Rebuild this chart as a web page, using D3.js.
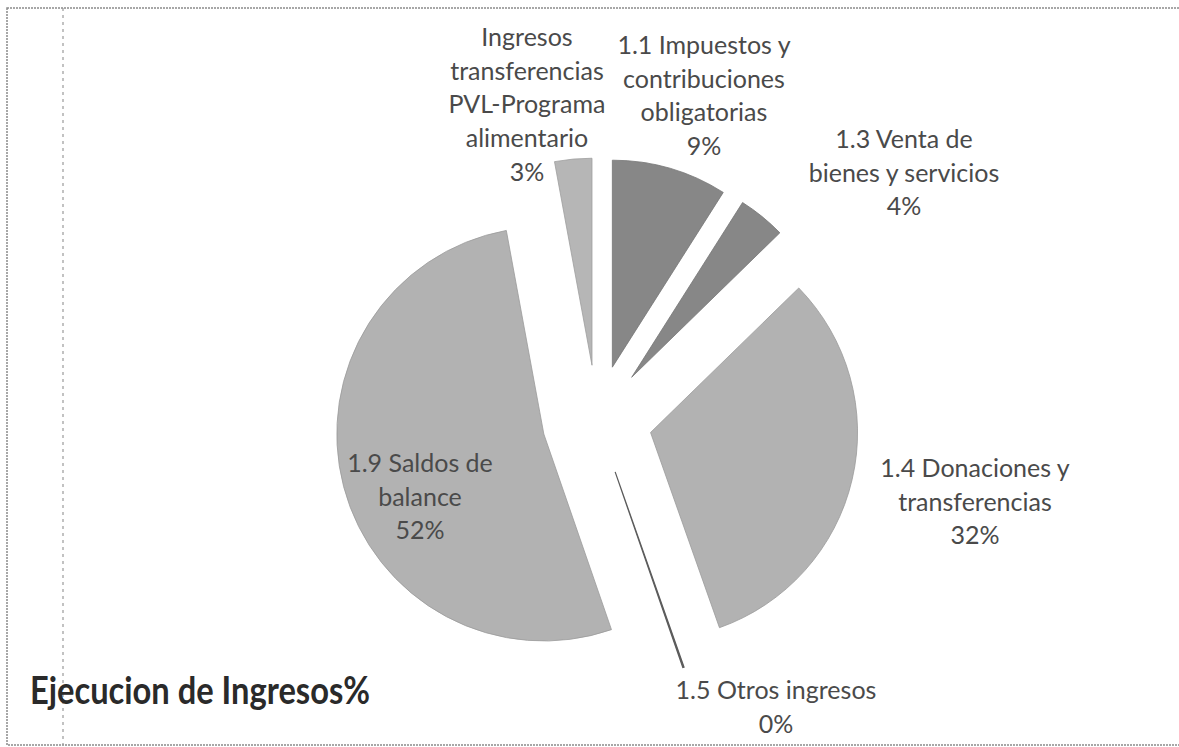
<!DOCTYPE html>
<html>

<head>
    <meta charset="UTF-8">
    <title>Ejecucion de Ingresos%</title>
    <script src="https://d3js.org/d3.v7.min.js"></script>
    <style>
        body { margin: 0; background: white; }
        .label { font-family: Lato, "Open Sans", sans-serif; font-size: 25px; fill: #4a4a4a; }
        .title { font-family: Lato, "Open Sans", sans-serif; font-size: 38px; font-weight: bold; fill: #2a2a2a; }
    </style>
</head>

<body>
    <script>
        // data, clockwise from 12 o'clock
        var categories = [
            "1.1 Impuestos y contribuciones obligatorias",
            "1.3 Venta de bienes y servicios",
            "1.4 Donaciones y transferencias",
            "1.5 Otros ingresos",
            "1.9 Saldos de balance",
            "Ingresos transferencias PVL-Programa alimentario"
        ];
        var shares = [9.0, 3.7, 31.9, 0.1, 52.4, 2.9];
        var labelLines = [
            ["1.1 Impuestos y", "contribuciones", "obligatorias"],
            ["1.3 Venta de", "bienes y servicios"],
            ["1.4 Donaciones y", "transferencias"],
            ["1.5 Otros ingresos"],
            ["1.9 Saldos de", "balance"],
            ["Ingresos", "transferencias", "PVL-Programa", "alimentario"]
        ];
        var sliceColors = ["#878787", "#878787", "#b2b2b2", "#6a6a6a", "#b2b2b2", "#b6b6b6"];

        // layout
        var width = 1179, height = 747;
        var cx = 597, cy = 420, radius = 207, explode = 55;
        var lineGap = 33.7;
        // label block: center x, first baseline
        var labelAnchor = [[704, 54], [904, 148], [975, 477], [776, 699], [420, 472], [527, 46]];

        var svg = d3.select("body").append("svg")
            .attr("width", width).attr("height", height);

        // scanned page frame
        svg.append("rect")
            .attr("x", 7).attr("y", 8).attr("width", width + 20).attr("height", 737)
            .attr("fill", "none").attr("stroke", "#8a8a8a").attr("stroke-width", 1.5)
            .attr("stroke-dasharray", "2,1");
        svg.append("line")
            .attr("x1", 63).attr("x2", 63).attr("y1", 8).attr("y2", 745)
            .attr("stroke", "#9a9a9a").attr("stroke-width", 1.2)
            .attr("stroke-dasharray", "3,4");

        var rows = categories.map(function (c, i) {
            return { name: c, value: shares[i], lines: labelLines[i], color: sliceColors[i], anchor: labelAnchor[i] };
        });

        var pie = d3.pie().sort(null).value(function (d) { return d.value; });
        var arcs = pie(rows);

        var arc = d3.arc().innerRadius(0).outerRadius(radius);

        var g = svg.append("g").attr("transform", "translate(" + cx + "," + cy + ")");

        g.selectAll("path").data(arcs).enter()
            .append("path")
            .attr("d", arc)
            .attr("transform", function (d) {
                var a = (d.startAngle + d.endAngle) / 2;
                return "translate(" + (explode * Math.sin(a)) + "," + (-explode * Math.cos(a)) + ")";
            })
            .attr("fill", function (d) { return d.data.color; })
            .attr("stroke", function (d) { return d3.color(d.data.color).darker(0.4); })
            .attr("stroke-width", function (d) { return d.data.value < 1 ? 1.2 : 0.8; });

        // data labels
        var labels = svg.append("g").selectAll("text").data(arcs).enter()
            .append("text").classed("label", true)
            .attr("text-anchor", "middle")
            .attr("x", function (d) { return d.data.anchor[0]; })
            .attr("y", function (d) { return d.data.anchor[1]; });

        labels.each(function (d) {
            var t = d3.select(this);
            var lines = d.data.lines.concat([Math.round(d.data.value) + "%"]);
            lines.forEach(function (s, i) {
                t.append("tspan")
                    .attr("x", d.data.anchor[0])
                    .attr("dy", i == 0 ? 0 : lineGap)
                    .text(s);
            });
        });

        // title is Calibri-narrow in the original, so squeeze it a bit
        svg.append("text").classed("title", true)
            .attr("x", 30).attr("y", 704)
            .attr("textLength", 340).attr("lengthAdjust", "spacingAndGlyphs")
            .text("Ejecucion de Ingresos%");
    </script>
</body>

</html>
